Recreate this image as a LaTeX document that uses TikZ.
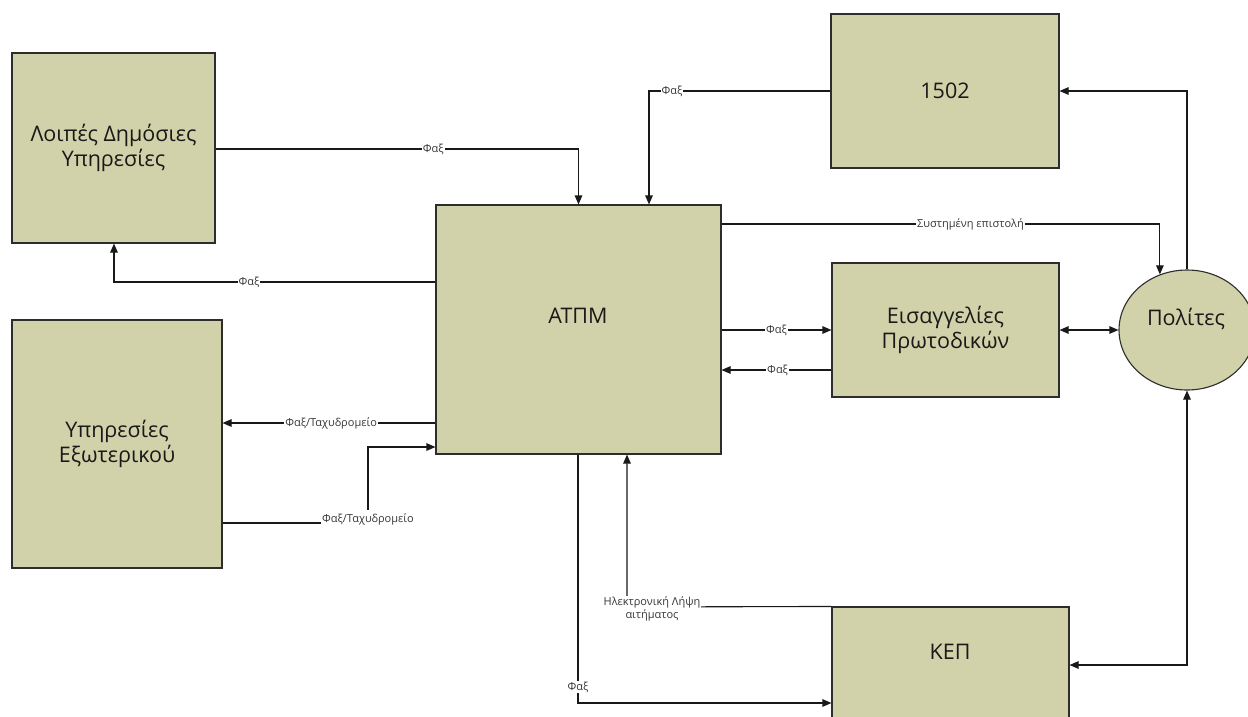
\documentclass[tikz,border=0pt]{standalone}
\usepackage{fontspec}
\setmainfont{Open Sans}
\usetikzlibrary{arrows.meta,shapes.geometric}
\definecolor{boxfill}{RGB}{209,210,170}
\definecolor{edge}{RGB}{45,45,45}
\definecolor{lbltext}{RGB}{55,55,55}
\begin{document}
\begin{tikzpicture}[x=1pt,y=-1pt,
  box/.style={draw=edge, line width=1.1pt, fill=boxfill, align=center, inner sep=0pt,
    font=\fontsize{21.5}{25}\selectfont, text=black!90},
  boxtext/.style={inner sep=0pt, font=\fontsize{21.5}{25}\selectfont, text=black!90},
  conn/.style={draw=black!90, line width=1.1pt, -{Triangle[length=9pt,width=7.5pt]}},
  conntwo/.style={draw=black!90, line width=1.1pt, {Triangle[length=9pt,width=7.5pt]}-{Triangle[length=9pt,width=7.5pt]}},
  lbl/.style={fill=white, inner sep=1pt, align=center, font=\fontsize{11}{13}\selectfont, text=lbltext}]
\clip (0,0) rectangle (1248,716);
\fill[white] (0,0) rectangle (1248,716);

% boxes
\node[box, minimum width=203pt, minimum height=190pt] (lo) at (113.5,148) {Λοιπές Δημόσιες\\Υπηρεσίες};
\node[box, minimum width=210pt, minimum height=248pt] (ex) at (117,444) {Υπηρεσίες\\Εξωτερικού};
\node[box, minimum width=285pt, minimum height=249pt] (at) at (578.5,329.5) {};
\node[boxtext] (attext) at (578,316) {ΑΤΠΜ};
\node[box, minimum width=228pt, minimum height=154pt] (fif) at (945,91) {1502};
\node[box, minimum width=227pt, minimum height=134pt] (eis) at (945.5,330) {Εισαγγελίες\\Πρωτοδικών};
\node[box, minimum width=237pt, minimum height=130pt] (kep) at (950.5,672) {};
\node[boxtext] (keptext) at (950,652) {ΚΕΠ};
\node[box, ellipse, minimum width=136pt, minimum height=120pt] (pol) at (1187,330) {};
\node[boxtext] (poltext) at (1186,319) {Πολίτες};

% connectors
\draw[conn] (lo.east |- 0,149) -| node[lbl,pos=0.3] (l1) {Φαξ} (at.north);
\draw[conn] (fif.west) -| node[lbl,pos=0.437] (l2) {Φαξ} (at.north -| 649,0);
\draw[conn] (at.west |- 0,282) -| node[lbl,pos=0.29] (l3) {Φαξ} (lo.south -| 114,0);
\draw[conn] (at.west |- 0,423) -- node[lbl,pos=0.49] (l4) {Φαξ/Ταχυδρομείο} (ex.east |- 0,423);
\coordinate (c5a) at (368,523);
\coordinate (c5b) at (368,447);
\draw[conn] (ex.east |- c5a) -- (c5a) -- (c5b) -- (at.west |- c5b);
\node[lbl, inner ysep=3.5pt] (l5) at (368,519) {Φαξ/Ταχυδρομείο};
\draw[conn] (at.east |- 0,224) -| node[lbl,pos=0.284] (l6) {Συστημένη επιστολή} (pol.116);
\draw[conn] (at.east |- 0,330) -- node[lbl,pos=0.5] (l7) {Φαξ} (eis.west |- 0,330);
\draw[conn] (eis.west |- 0,370) -- node[lbl,pos=0.49] (l8) {Φαξ} (at.east |- 0,370);
\draw[conntwo] (eis.east |- pol.west) -- (pol.west);
\draw[conn] (pol.north) |- (fif.east);
\coordinate (c11) at (627,607);
\draw[conn] (kep.north west) -- (c11) -- (at.south -| c11);
\node[lbl] (l11) at (652,609) {Ηλεκτρονική Λήψη\\αιτήματος};
\draw[conn] (at.south -| 578,0) |- node[lbl,pos=0.468] (l12) {Φαξ} (kep.west |- 0,703);
\draw[conntwo] (kep.east |- 0,665) -| (pol.south);
\end{tikzpicture}
\end{document}
